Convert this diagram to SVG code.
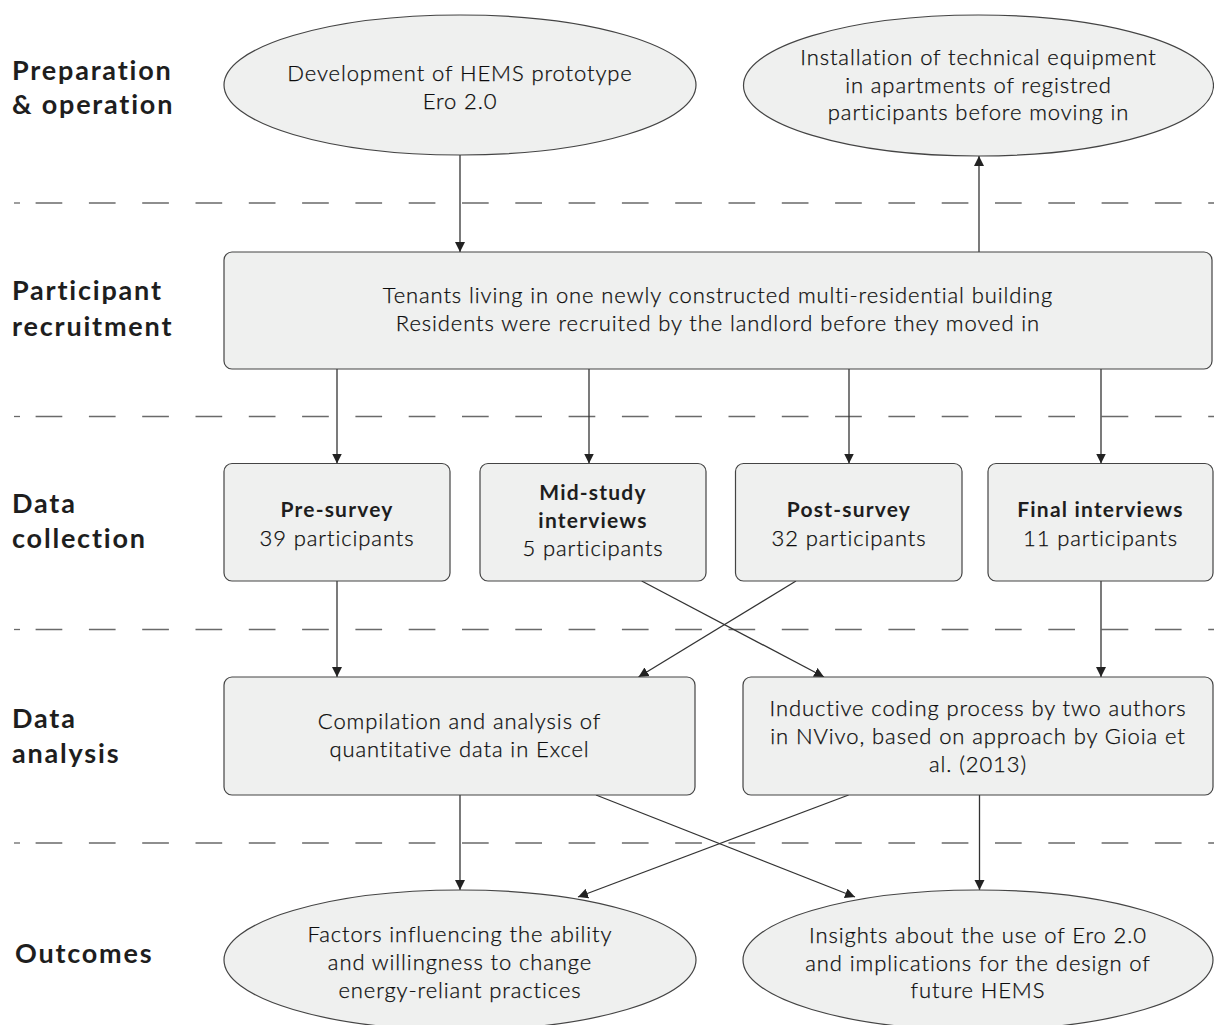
<svg xmlns="http://www.w3.org/2000/svg" width="1214" height="1025" viewBox="0 0 1214 1025">
  <defs>
    <marker id="arrow" viewBox="0 0 10 10" refX="10" refY="5" markerWidth="10" markerHeight="11" markerUnits="userSpaceOnUse" orient="auto">
      <path d="M0,0 L10,5 L0,10 z" fill="#222"/>
    </marker>
    <style>
      .bg { fill: #ffffff; }
      .node { fill: #eff0ef; stroke: #444; stroke-width: 1.2; }
      .sep { stroke: #6a6a6a; stroke-width: 1.3; fill: none; }
      .sep-dash { stroke: #6a6a6a; stroke-width: 1.3; stroke-dasharray: 26.7 26.6; }
      .edge { stroke: #333; stroke-width: 1.3; fill: none; marker-end: url(#arrow); }
      .lane { font-family: Lato, "Liberation Sans", sans-serif; font-weight: 700; font-size: 27px; fill: #1e1e1e; letter-spacing: 1.8px; }
      .body { font-family: Lato, "Liberation Sans", sans-serif; font-weight: 300; font-size: 22px; fill: #0c0c0c; text-anchor: middle; letter-spacing: 0.9px; stroke: #0c0c0c; stroke-width: 0.25; }
      .head { font-family: Lato, "Liberation Sans", sans-serif; font-weight: 700; font-size: 21px; fill: #1e1e1e; text-anchor: middle; letter-spacing: 1.2px; }
    </style>
  </defs>

  <rect class="bg" x="0" y="0" width="1214" height="1025"/>

  <!-- lane separators -->
  <g id="separators">
    <path class="sep" d="M14 203 H20"/>
    <line class="sep-dash" x1="35.6" y1="203" x2="1214" y2="203"/>
    <path class="sep" d="M14 416.5 H20"/>
    <line class="sep-dash" x1="35.6" y1="416.5" x2="1214" y2="416.5"/>
    <path class="sep" d="M14 629.5 H20"/>
    <line class="sep-dash" x1="35.6" y1="629.5" x2="1214" y2="629.5"/>
    <path class="sep" d="M14 843 H20"/>
    <line class="sep-dash" x1="35.6" y1="843" x2="1214" y2="843"/>
  </g>

  <!-- lane titles -->
  <g id="lane-titles">
    <text class="lane" x="12" y="80">Preparation</text>
    <text class="lane" x="12" y="114">&amp; operation</text>
    <text class="lane" x="12" y="300">Participant</text>
    <text class="lane" x="12" y="336">recruitment</text>
    <text class="lane" x="12" y="513">Data</text>
    <text class="lane" x="12" y="548">collection</text>
    <text class="lane" x="12" y="728">Data</text>
    <text class="lane" x="12" y="763">analysis</text>
    <text class="lane" x="15" y="963">Outcomes</text>
  </g>

  <!-- connectors -->
  <g id="connectors">
    <line class="edge" x1="460" y1="155" x2="460" y2="252"/>
    <line class="edge" x1="979" y1="252" x2="979" y2="156"/>
    <line class="edge" x1="337" y1="369" x2="337" y2="463.5"/>
    <line class="edge" x1="589" y1="369" x2="589" y2="463.5"/>
    <line class="edge" x1="849" y1="369" x2="849" y2="463.5"/>
    <line class="edge" x1="1101" y1="369" x2="1101" y2="463.5"/>
    <line class="edge" x1="337" y1="581" x2="337" y2="677"/>
    <line class="edge" x1="1101" y1="581" x2="1101" y2="677"/>
    <line class="edge" x1="641.7" y1="581" x2="824" y2="677"/>
    <line class="edge" x1="796" y1="581" x2="638.5" y2="677"/>
    <line class="edge" x1="460" y1="795" x2="460" y2="890"/>
    <line class="edge" x1="596" y1="795" x2="855" y2="897"/>
    <line class="edge" x1="848.6" y1="795" x2="578" y2="897"/>
    <line class="edge" x1="979.5" y1="795" x2="979.5" y2="890"/>
  </g>

  <!-- preparation & operation -->
  <g id="hems-prototype">
    <ellipse class="node" cx="460" cy="85" rx="236" ry="70"/>
    <text class="body" x="460" y="81">Development of HEMS prototype</text>
    <text class="body" x="460" y="109">Ero 2.0</text>
  </g>
  <g id="equipment-installation">
    <ellipse class="node" cx="978.5" cy="85.5" rx="235" ry="70.5"/>
    <text class="body" x="978.5" y="65">Installation of technical equipment</text>
    <text class="body" x="978.5" y="92.5">in apartments of registred</text>
    <text class="body" x="978.5" y="120">participants before moving in</text>
  </g>

  <!-- participant recruitment -->
  <g id="tenants">
    <rect class="node" x="224" y="252" width="988" height="117" rx="8"/>
    <text class="body" x="718" y="303">Tenants living in one newly constructed multi-residential building</text>
    <text class="body" x="718" y="331">Residents were recruited by the landlord before they moved in</text>
  </g>

  <!-- data collection -->
  <g id="pre-survey">
    <rect class="node" x="224" y="463.5" width="226" height="117.5" rx="8"/>
    <text class="head" x="337" y="517">Pre-survey</text>
    <text class="body" x="337" y="546">39 participants</text>
  </g>
  <g id="mid-study-interviews">
    <rect class="node" x="480" y="463.5" width="226" height="117.5" rx="8"/>
    <text class="head" x="593" y="500">Mid-study</text>
    <text class="head" x="593" y="528">interviews</text>
    <text class="body" x="593" y="556">5 participants</text>
  </g>
  <g id="post-survey">
    <rect class="node" x="735.5" y="463.5" width="226.5" height="117.5" rx="8"/>
    <text class="head" x="849" y="517">Post-survey</text>
    <text class="body" x="849" y="546">32 participants</text>
  </g>
  <g id="final-interviews">
    <rect class="node" x="988" y="463.5" width="225" height="117.5" rx="8"/>
    <text class="head" x="1100.5" y="517">Final interviews</text>
    <text class="body" x="1100.5" y="546">11 participants</text>
  </g>

  <!-- data analysis -->
  <g id="quantitative-analysis">
    <rect class="node" x="224" y="677" width="471" height="118" rx="8"/>
    <text class="body" x="459.5" y="729">Compilation and analysis of</text>
    <text class="body" x="459.5" y="757">quantitative data in Excel</text>
  </g>
  <g id="inductive-coding">
    <rect class="node" x="743" y="677" width="470" height="118" rx="8"/>
    <text class="body" x="978" y="716">Inductive coding process by two authors</text>
    <text class="body" x="978" y="744">in NVivo, based on approach by Gioia et</text>
    <text class="body" x="978" y="772">al. (2013)</text>
  </g>

  <!-- outcomes -->
  <g id="factors">
    <ellipse class="node" cx="460" cy="960" rx="236" ry="70"/>
    <text class="body" x="460" y="942">Factors influencing the ability</text>
    <text class="body" x="460" y="970">and willingness to change</text>
    <text class="body" x="460" y="998">energy-reliant practices</text>
  </g>
  <g id="insights">
    <ellipse class="node" cx="978" cy="960" rx="235" ry="70"/>
    <text class="body" x="978" y="943">Insights about the use of Ero 2.0</text>
    <text class="body" x="978" y="971">and implications for the design of</text>
    <text class="body" x="978" y="998">future HEMS</text>
  </g>
</svg>
